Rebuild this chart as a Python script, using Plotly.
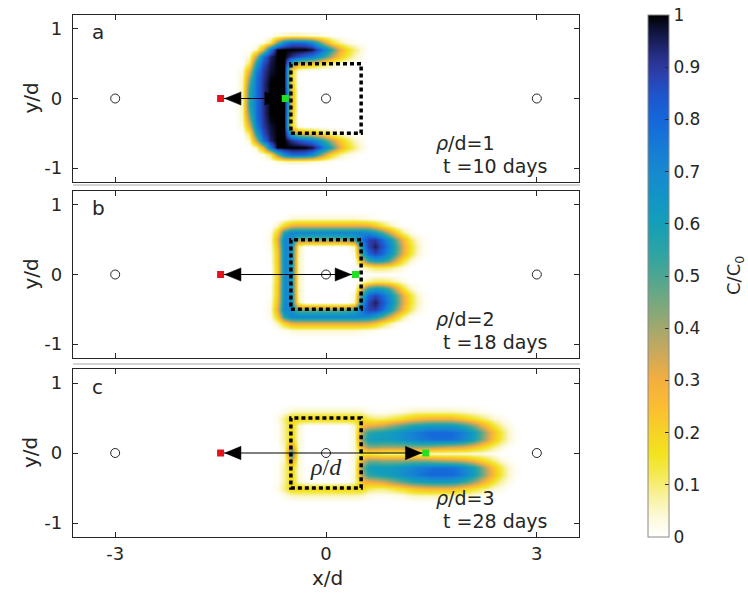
import numpy as np
import plotly.graph_objects as go

# ---------------------------------------------------------------------------
# Concentration fields C/C0 on a regular grid (upper half, y/d >= 0).
# The plume is symmetric about the well line, so the lower half is mirrored.
# ---------------------------------------------------------------------------
y_half = [0.0, 0.1, 0.2, 0.3, 0.4, 0.5, 0.6, 0.7, 0.8, 0.9]

# panel a: rho/d = 1, t = 10 days
xa = [-1.3, -1.2, -1.1, -1.0, -0.9, -0.8, -0.7, -0.6, -0.5, -0.4,
      -0.3, -0.2, -0.1, 0.0, 0.1, 0.2, 0.3, 0.4, 0.5, 0.6]
ca = [
    [0, 0.06, 0.55, 0.78, 0.92, 1, 1, 1, 0.3, 0, 0, 0, 0, 0, 0, 0, 0, 0, 0, 0],
    [0, 0.06, 0.55, 0.78, 0.92, 1, 1, 1, 0.3, 0, 0, 0, 0, 0, 0, 0, 0, 0, 0, 0],
    [0, 0.06, 0.5, 0.78, 0.92, 1, 1, 1, 0.25, 0, 0, 0, 0, 0, 0, 0, 0, 0, 0, 0],
    [0, 0.05, 0.42, 0.77, 0.91, 0.99, 1, 1, 0.2, 0, 0, 0, 0, 0, 0, 0, 0, 0, 0, 0],
    [0, 0.03, 0.3, 0.72, 0.9, 0.97, 1, 1, 0.2, 0.02, 0, 0, 0, 0, 0, 0, 0, 0, 0, 0],
    [0, 0, 0.12, 0.6, 0.86, 0.96, 1, 1, 0.55, 0.35, 0.3, 0.25, 0.18, 0.12, 0.06, 0.03, 0.01, 0, 0, 0],
    [0, 0, 0.04, 0.38, 0.78, 0.94, 1, 1, 0.92, 0.86, 0.8, 0.75, 0.65, 0.5, 0.35, 0.22, 0.13, 0.06, 0.02, 0],
    [0, 0, 0, 0.05, 0.3, 0.75, 1, 1, 1, 1, 1, 0.97, 0.85, 0.7, 0.5, 0.3, 0.18, 0.1, 0.04, 0],
    [0, 0, 0, 0, 0.02, 0.12, 0.45, 0.7, 0.8, 0.8, 0.78, 0.7, 0.5, 0.3, 0.15, 0.07, 0.03, 0.01, 0, 0],
    [0, 0, 0, 0, 0, 0, 0.02, 0.04, 0.05, 0.05, 0.04, 0.03, 0.02, 0.01, 0, 0, 0, 0, 0, 0],
]

# panel b: rho/d = 2, t = 18 days
xb = [-0.9, -0.8, -0.7, -0.6, -0.5, -0.4, -0.3, -0.2, -0.1, 0.0, 0.1, 0.2, 0.3,
      0.4, 0.5, 0.6, 0.7, 0.8, 0.9, 1.0, 1.1, 1.2, 1.3, 1.4, 1.5]
cb = [
    [0, 0, 0.2, 0.7, 0.65, 0.06, 0, 0, 0, 0, 0, 0, 0, 0, 0, 0, 0, 0, 0, 0, 0, 0, 0, 0, 0],
    [0, 0, 0.2, 0.7, 0.65, 0.06, 0, 0, 0, 0, 0, 0, 0, 0, 0.03, 0.08, 0.12, 0.12, 0.1, 0.06, 0.03, 0, 0, 0, 0],
    [0, 0.01, 0.22, 0.7, 0.65, 0.06, 0, 0, 0, 0, 0, 0, 0, 0, 0.3, 0.55, 0.62, 0.6, 0.5, 0.32, 0.15, 0.05, 0.01, 0, 0],
    [0, 0.01, 0.22, 0.7, 0.66, 0.06, 0, 0, 0, 0, 0, 0, 0, 0.03, 0.55, 0.8, 0.88, 0.8, 0.68, 0.5, 0.3, 0.15, 0.05, 0.01, 0],
    [0, 0.02, 0.25, 0.71, 0.68, 0.08, 0, 0, 0, 0, 0, 0, 0, 0.06, 0.65, 0.88, 0.95, 0.85, 0.72, 0.52, 0.32, 0.16, 0.06, 0.01, 0],
    [0, 0.03, 0.3, 0.72, 0.68, 0.45, 0.45, 0.45, 0.45, 0.45, 0.45, 0.45, 0.48, 0.55, 0.75, 0.88, 0.9, 0.8, 0.65, 0.45, 0.27, 0.12, 0.04, 0.01, 0],
    [0, 0.02, 0.2, 0.58, 0.72, 0.72, 0.72, 0.72, 0.72, 0.72, 0.72, 0.72, 0.72, 0.72, 0.72, 0.7, 0.62, 0.5, 0.35, 0.2, 0.08, 0.02, 0, 0, 0],
    [0, 0, 0.05, 0.18, 0.28, 0.3, 0.3, 0.3, 0.3, 0.3, 0.3, 0.3, 0.3, 0.3, 0.3, 0.28, 0.22, 0.14, 0.07, 0.02, 0, 0, 0, 0, 0],
    [0, 0, 0, 0.01, 0.03, 0.04, 0.04, 0.04, 0.04, 0.04, 0.04, 0.04, 0.04, 0.04, 0.03, 0.02, 0.01, 0, 0, 0, 0, 0, 0, 0, 0],
    [0] * 25,
]

# panel c: rho/d = 3, t = 28 days
xc = [-0.8, -0.7, -0.6, -0.5, -0.4, -0.3, -0.2, -0.1, 0.0, 0.1, 0.2, 0.3, 0.4,
      0.5, 0.6, 0.7, 0.8, 0.9, 1.0, 1.1, 1.2, 1.3, 1.4, 1.5, 1.6, 1.7, 1.8,
      1.9, 2.0, 2.1, 2.2, 2.3, 2.4, 2.5, 2.6, 2.7, 2.8]
cc = [
    [0, 0, 0.06, 0.6, 0.04, 0, 0, 0, 0, 0, 0, 0, 0.04, 0.12, 0.12, 0.1, 0.08, 0.07, 0.07, 0.07, 0.07, 0.06, 0.05, 0.04, 0.04, 0.04, 0.04, 0.04, 0.04, 0.03, 0.03, 0.02, 0.01, 0, 0, 0, 0],
    [0, 0, 0.06, 0.35, 0.04, 0, 0, 0, 0, 0, 0, 0, 0.04, 0.3, 0.44, 0.44, 0.42, 0.42, 0.42, 0.42, 0.44, 0.44, 0.44, 0.42, 0.4, 0.38, 0.37, 0.35, 0.32, 0.27, 0.21, 0.15, 0.09, 0.04, 0.01, 0, 0],
    [0, 0.01, 0.08, 0.2, 0.04, 0, 0, 0, 0, 0, 0, 0, 0.04, 0.42, 0.6, 0.62, 0.62, 0.62, 0.64, 0.67, 0.7, 0.73, 0.75, 0.77, 0.78, 0.78, 0.77, 0.74, 0.68, 0.6, 0.48, 0.35, 0.22, 0.12, 0.05, 0.01, 0],
    [0, 0.01, 0.08, 0.2, 0.04, 0, 0, 0, 0, 0, 0, 0, 0.04, 0.38, 0.55, 0.58, 0.6, 0.62, 0.65, 0.68, 0.72, 0.75, 0.78, 0.8, 0.8, 0.8, 0.79, 0.76, 0.7, 0.62, 0.5, 0.37, 0.24, 0.13, 0.05, 0.01, 0],
    [0, 0.01, 0.08, 0.2, 0.05, 0, 0, 0, 0, 0, 0, 0, 0.05, 0.25, 0.3, 0.32, 0.35, 0.4, 0.45, 0.5, 0.55, 0.58, 0.6, 0.62, 0.63, 0.63, 0.62, 0.58, 0.52, 0.44, 0.34, 0.24, 0.14, 0.07, 0.03, 0, 0],
    [0, 0.02, 0.1, 0.2, 0.2, 0.2, 0.2, 0.2, 0.2, 0.2, 0.2, 0.2, 0.2, 0.2, 0.12, 0.1, 0.1, 0.12, 0.15, 0.18, 0.22, 0.25, 0.27, 0.28, 0.28, 0.28, 0.27, 0.24, 0.2, 0.16, 0.12, 0.08, 0.04, 0.02, 0, 0, 0],
    [0, 0, 0.02, 0.05, 0.06, 0.06, 0.06, 0.06, 0.06, 0.06, 0.06, 0.06, 0.06, 0.05, 0.02, 0.01, 0.01, 0.01, 0.02, 0.03, 0.05, 0.06, 0.06, 0.06, 0.06, 0.06, 0.06, 0.05, 0.04, 0.03, 0.02, 0.01, 0, 0, 0, 0, 0],
    [0] * 37,
    [0] * 37,
    [0] * 37,
]

# wells, source / front markers and annotations
well_x = [-3, 0, 3]
source_x = [-1.5, -1.5, -1.5]
front_x = [-0.58, 0.42, 1.42]
rho_d = [1, 2, 3]
days = [10, 18, 28]
tags = ["a", "b", "c"]
zone_x = [-0.5, 0.5]
zone_y = [-0.5, 0.5]

cbar_ticks = [0, 0.1, 0.2, 0.3, 0.4, 0.5, 0.6, 0.7, 0.8, 0.9, 1]
x_ticks = [-3, 0, 3]
x_labels = ["-3", "0", "3"]
y_ticks = [-1, 0, 1]
y_labels = ["-1", "0", "1"]

colorscale = [
    [0.00, "#FFFFFF"], [0.04, "#FCF9D8"], [0.08, "#F8F19A"], [0.12, "#F4EA52"],
    [0.16, "#F2E31E"], [0.20, "#F6D326"], [0.25, "#FBBD32"], [0.30, "#F4AF3E"],
    [0.35, "#CDA95A"], [0.40, "#A2A86C"], [0.45, "#76A97E"], [0.50, "#4CA692"],
    [0.55, "#2BA3A6"], [0.60, "#149FB8"], [0.65, "#1295C6"], [0.70, "#1689D0"],
    [0.75, "#167AD6"], [0.80, "#1567DA"], [0.85, "#1F53CA"], [0.88, "#2A43B2"],
    [0.91, "#2A3594"], [0.94, "#1D246A"], [0.97, "#0F133A"], [1.00, "#000000"],
]


def mirror(field):
    upper = np.array(field, dtype=float)
    return np.vstack([upper[:0:-1], upper])


y_full = np.concatenate([-np.array(y_half[:0:-1]), np.array(y_half)])

W, H = 748, 596
FONT = "DejaVu Sans"
INK = "#262626"
panel_px = [(15, 182), (191, 358), (369, 537)]   # top / bottom of each axes box

fig = go.Figure()
fields = [(xa, ca), (xb, cb), (xc, cc)]
head_len, head_half = 0.23, 0.095

for i, (xs, field) in enumerate(fields):
    sfx = "" if i == 0 else str(i + 1)
    xr, yr = "x" + sfx, "y" + sfx
    fig.add_trace(go.Heatmap(x=xs, y=y_full, z=mirror(field), coloraxis="coloraxis",
                             zsmooth="best", xaxis=xr, yaxis=yr, hoverinfo="skip"))
    # wells
    fig.add_trace(go.Scatter(x=well_x, y=[0] * len(well_x), mode="markers", xaxis=xr, yaxis=yr,
                             marker=dict(symbol="circle-open", size=9, color=INK,
                                         line=dict(width=1, color=INK)),
                             showlegend=False, hoverinfo="skip"))
    # distance arrow
    xs0, xf = source_x[i], front_x[i]
    fig.add_trace(go.Scatter(x=[xs0, xf], y=[0, 0], mode="lines", xaxis=xr, yaxis=yr,
                             line=dict(color="black", width=1), showlegend=False, hoverinfo="skip"))
    tip_l = xs0 + 0.06
    tip_r = xf - 0.06
    for tip, base in [(tip_l, tip_l + head_len), (tip_r, tip_r - head_len)]:
        fig.add_trace(go.Scatter(x=[tip, base, base, tip], y=[0, head_half, -head_half, 0],
                                 mode="lines", fill="toself", fillcolor="black",
                                 line=dict(color="black", width=0.5), xaxis=xr, yaxis=yr,
                                 showlegend=False, hoverinfo="skip"))
    fig.add_trace(go.Scatter(x=[xs0], y=[0], mode="markers", xaxis=xr, yaxis=yr,
                             marker=dict(symbol="square", size=7, color="#E3141B"),
                             showlegend=False, hoverinfo="skip"))
    fig.add_trace(go.Scatter(x=[xf], y=[0], mode="markers", xaxis=xr, yaxis=yr,
                             marker=dict(symbol="square", size=7, color="#22E022"),
                             showlegend=False, hoverinfo="skip"))
    # treatment zone outline
    fig.add_shape(type="rect", xref=xr, yref=yr, x0=zone_x[0], x1=zone_x[1],
                  y0=zone_y[0], y1=zone_y[1], line=dict(color="black", width=3.5, dash="4px,3px"))

    top, bot = panel_px[i]
    ax = dict(range=[-3.6, 3.6], domain=[73 / W, 579 / W], anchor=yr, showgrid=False,
              zeroline=False, showline=True, mirror="ticks", linecolor=INK, linewidth=1.3,
              ticks="inside", ticklen=5, tickcolor=INK, tickvals=x_ticks, ticktext=x_labels,
              showticklabels=(i == 2), tickfont=dict(family=FONT, size=18, color=INK))
    ay = dict(range=[-1.2, 1.2], domain=[(H - bot) / H, (H - top) / H], anchor=xr,
              showgrid=False, zeroline=False, showline=True, mirror="ticks", linecolor=INK,
              linewidth=1.3, ticks="inside", ticklen=5, tickcolor=INK, tickvals=y_ticks,
              ticktext=y_labels, ticklabelstandoff=6,
              tickfont=dict(family=FONT, size=18, color=INK))
    fig.layout["xaxis" + sfx] = ax
    fig.layout["yaxis" + sfx] = ay

    # panel letter and run description
    fig.add_annotation(x=-3.36, y=0.95, xref=xr, yref=yr, text=tags[i], showarrow=False,
                       xanchor="left", yanchor="middle", font=dict(family=FONT, size=20, color=INK))
    fig.add_annotation(x=1.53, y=-0.64, xref=xr, yref=yr, text=f"<i>ρ</i>/d={rho_d[i]}",
                       showarrow=False, xanchor="left", yanchor="middle",
                       font=dict(family=FONT, size=19, color=INK))
    fig.add_annotation(x=1.63, y=-0.97, xref=xr, yref=yr, text=f"t ={days[i]} days",
                       showarrow=False, xanchor="left", yanchor="middle",
                       font=dict(family=FONT, size=19, color=INK))
    # axis title
    fig.add_annotation(x=30 / W, y=(H - (top + bot) / 2) / H, xref="paper", yref="paper",
                       text="y/d", textangle=-90, showarrow=False, xanchor="center",
                       yanchor="middle", font=dict(family=FONT, size=20, color=INK))

# thin frame lines left between the stacked panels
for py in (185, 364):
    fig.add_shape(type="line", xref="paper", yref="paper", x0=73 / W, x1=580 / W,
                  y0=(H - py) / H, y1=(H - py) / H, line=dict(color="#A8A8A8", width=1))

fig.add_annotation(x=0.0, y=-0.2, xref="x3", yref="y3", text="<i>ρ</i>/<i>d</i>", showarrow=False,
                   xanchor="center", yanchor="middle",
                   font=dict(family="Liberation Serif", size=24, color=INK))
fig.add_annotation(x=327 / W, y=(H - 578) / H, xref="paper", yref="paper", text="x/d",
                   showarrow=False, xanchor="center", yanchor="middle",
                   font=dict(family=FONT, size=20, color=INK))
fig.add_annotation(x=735 / W, y=(H - 276) / H, xref="paper", yref="paper", text="C/C<sub>0</sub>",
                   textangle=-90, showarrow=False, xanchor="center", yanchor="middle",
                   font=dict(family=FONT, size=18, color=INK))

fig.update_layout(
    width=W, height=H, margin=dict(l=0, r=0, t=0, b=0),
    paper_bgcolor="white", plot_bgcolor="white", showlegend=False,
    font=dict(family=FONT, color=INK),
    coloraxis=dict(
        cmin=0, cmax=1, colorscale=colorscale,
        colorbar=dict(
            x=648 / W, xanchor="left", xpad=0, ypad=0,
            y=(H - 276) / H, yanchor="middle", len=522 / H, lenmode="fraction",
            thickness=21, thicknessmode="pixels", outlinewidth=1, outlinecolor="#888888",
            tickvals=cbar_ticks, ticktext=[f"{v:g}" for v in cbar_ticks],
            ticks="inside", ticklen=4, tickcolor=INK,
            tickfont=dict(family=FONT, size=17, color=INK),
        ),
    ),
)

fig.write_html("out.html")
